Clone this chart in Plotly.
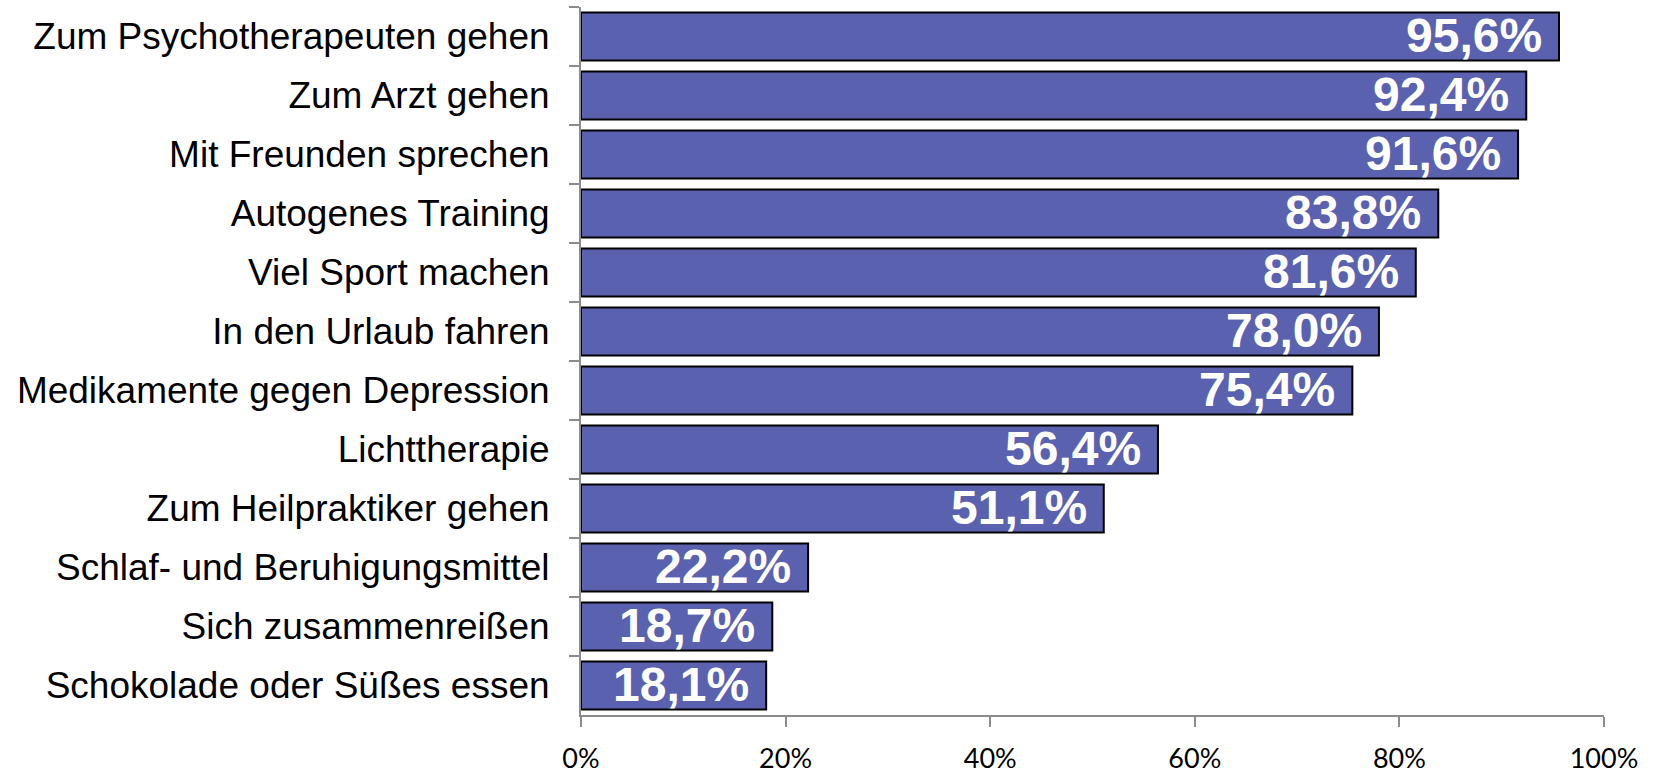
import plotly.graph_objects as go

categories = [
    "Zum Psychotherapeuten gehen",
    "Zum Arzt gehen",
    "Mit Freunden sprechen",
    "Autogenes Training",
    "Viel Sport machen",
    "In den Urlaub fahren",
    "Medikamente gegen Depression",
    "Lichttherapie",
    "Zum Heilpraktiker gehen",
    "Schlaf- und Beruhigungsmittel",
    "Sich zusammenreißen",
    "Schokolade oder Süßes essen",
]
values = [95.6, 92.4, 91.6, 83.8, 81.6, 78.0, 75.4, 56.4, 51.1, 22.2, 18.7, 18.1]
x_ticks = [0, 20, 40, 60, 80, 100]

labels = [f"{v:.1f}".replace(".", ",") + "%" for v in values]

fig = go.Figure()
fig.add_trace(go.Bar(
    x=values, y=categories, orientation="h",
    marker=dict(color="#5A62B0", line=dict(color="#000000", width=2)),
    hoverinfo="skip",
))

for v, c, t in zip(values, categories, labels):
    fig.add_annotation(
        x=v, y=c, xref="x", yref="y", text=f"<b>{t}</b>", showarrow=False,
        xanchor="right", yanchor="middle", xshift=-15, yshift=1,
        font=dict(family="Liberation Sans, Arial", size=48, color="white"),
    )

fig.update_layout(
    width=1655, height=768,
    margin=dict(l=581, r=51, t=7, b=53, autoexpand=False),
    paper_bgcolor="white", plot_bgcolor="white",
    bargap=0.19,
    showlegend=False,
)
fig.update_xaxes(
    range=[0, 100], tickvals=x_ticks, ticktext=[f"{t}%" for t in x_ticks],
    showgrid=False, zeroline=False, automargin=False,
    showline=True, linecolor="#8c8c8c", linewidth=2,
    ticks="outside", ticklen=10, tickwidth=2, tickcolor="#8c8c8c",
    tickfont=dict(family="Lato", size=27, color="black"),
    ticklabelstandoff=9,
)
fig.update_yaxes(
    autorange="reversed", showgrid=False, zeroline=False, automargin=False,
    showline=True, linecolor="#8c8c8c", linewidth=2,
    ticks="outside", ticklen=10, tickwidth=2, tickcolor="#8c8c8c",
    tickson="boundaries",
    tickfont=dict(family="Liberation Sans, Arial", size=37, color="black"),
    ticklabelstandoff=22,
)

fig.write_html("out.html", config={"displayModeBar": False},
               post_script="document.body.style.margin='0';")
